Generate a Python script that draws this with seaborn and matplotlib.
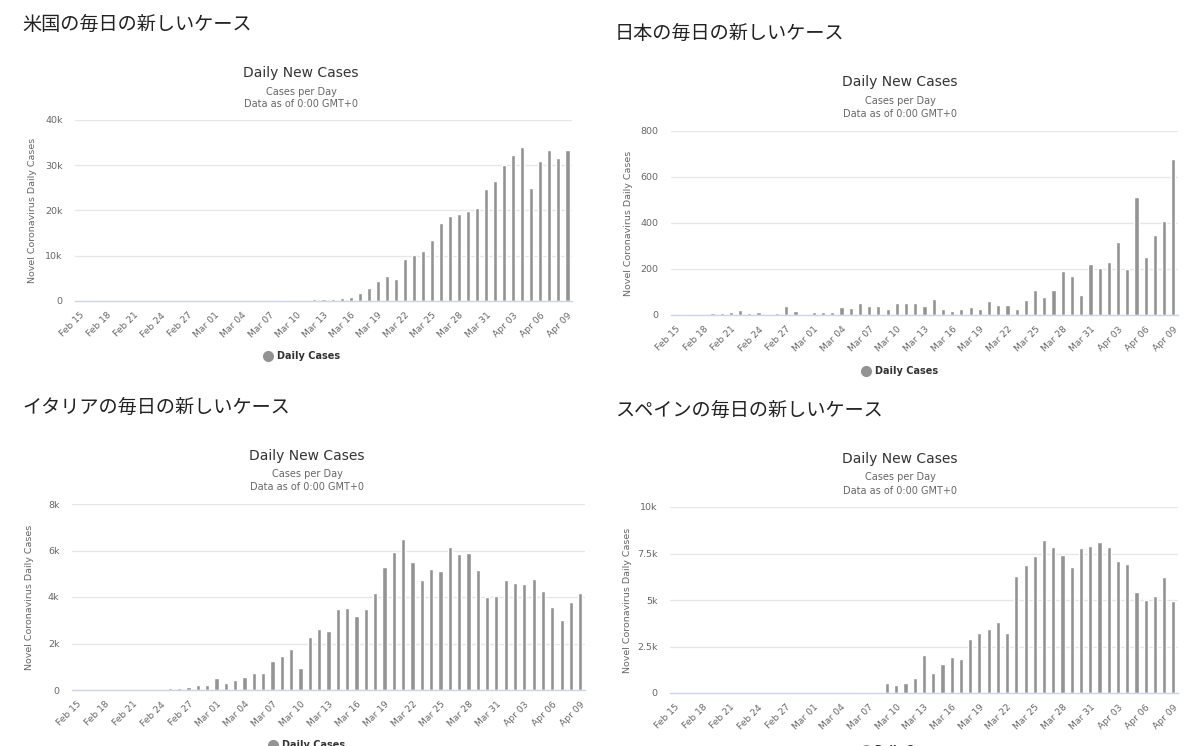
import matplotlib
matplotlib.use("Agg")
import matplotlib.pyplot as plt
import seaborn as sns
import pandas as pd
from matplotlib.lines import Line2D

# ---------------- data ----------------
dates = [
    "Feb 15", "Feb 16", "Feb 17", "Feb 18", "Feb 19", "Feb 20", "Feb 21", "Feb 22",
    "Feb 23", "Feb 24", "Feb 25", "Feb 26", "Feb 27", "Feb 28", "Feb 29",
    "Mar 01", "Mar 02", "Mar 03", "Mar 04", "Mar 05", "Mar 06", "Mar 07", "Mar 08",
    "Mar 09", "Mar 10", "Mar 11", "Mar 12", "Mar 13", "Mar 14", "Mar 15", "Mar 16",
    "Mar 17", "Mar 18", "Mar 19", "Mar 20", "Mar 21", "Mar 22", "Mar 23", "Mar 24",
    "Mar 25", "Mar 26", "Mar 27", "Mar 28", "Mar 29", "Mar 30", "Mar 31",
    "Apr 01", "Apr 02", "Apr 03", "Apr 04", "Apr 05", "Apr 06", "Apr 07", "Apr 08", "Apr 09",
]

us_cases = [
    0, 0, 0, 0, 0, 1, 0, 0, 0, 0, 0, 0, 0, 0, 0,
    8, 20, 22, 30, 70, 50, 110, 80, 160,
    200, 270, 360, 400, 500, 700, 900, 1700, 2900, 4400, 5500, 4800, 9300, 10200,
    11100, 13400, 17300, 18700, 19300, 19800, 20500, 24800,
    26500, 30000, 32200, 34000, 25000, 31000, 33300, 31700, 33300,
]

japan_cases = [
    0, 5, 5, 5, 8, 9, 13, 22, 9, 12, 0, 9, 39, 16, 5,
    13, 15, 15, 36, 30, 54, 40, 40, 26, 54, 50, 50, 40, 68, 26, 16,
    26, 33, 26, 60, 43, 43, 26, 65, 109, 78, 109, 190, 170, 85, 223,
    205, 229, 316, 201, 513, 250, 348, 407, 677,
]

italy_cases = [
    0, 0, 0, 0, 0, 0, 0, 50, 50, 50, 80, 100, 150, 220, 220,
    530, 320, 420, 560, 730, 730, 1230, 1480, 1760, 950,
    2280, 2620, 2520, 3470, 3530, 3190, 3470, 4160, 5280, 5940,
    6500, 5490, 4730, 5200, 5130, 6140, 5850, 5910, 5170, 3990, 4030,
    4730, 4610, 4540, 4760, 4270, 3570, 3010, 3790, 4170,
]

spain_cases = [
    0, 0, 0, 0, 0, 0, 0, 0, 0, 0, 0, 0, 0, 0, 0,
    0, 0, 0, 0, 0, 70, 70, 70, 540, 450, 540, 820, 2050, 1090, 1540, 1930,
    1840, 2880, 3230, 3450, 3840, 3230, 6290, 6860, 7380, 8210, 7860, 7430,
    6800, 7770, 7910,
    8120, 7860, 7090, 6910, 5430, 4980, 5200, 6220, 4950,
]

us_yticks = [0, 10000, 20000, 30000, 40000]
us_yticklabels = ["0", "10k", "20k", "30k", "40k"]
japan_yticks = [0, 200, 400, 600, 800]
japan_yticklabels = ["0", "200", "400", "600", "800"]
italy_yticks = [0, 2000, 4000, 6000, 8000]
italy_yticklabels = ["0", "2k", "4k", "6k", "8k"]
spain_yticks = [0, 2500, 5000, 7500, 10000]
spain_yticklabels = ["0", "2.5k", "5k", "7.5k", "10k"]

jp_titles = ["米国の毎日の新しいケース", "日本の毎日の新しいケース",
             "イタリアの毎日の新しいケース", "スペインの毎日の新しいケース"]
chart_title = "Daily New Cases"
subtitle_1 = "Cases per Day"
subtitle_2 = "Data as of 0:00 GMT+0"
y_label = "Novel Coronavirus Daily Cases"
legend_label = "Daily Cases"

# ---------------- style ----------------
W, H = 1200, 746
BAR = "#939393"
sns.set_theme(style="white")
plt.rcParams["font.family"] = ["DejaVu Sans", "Noto Sans CJK JP"]

fig = plt.figure(figsize=(W / 100, H / 100), dpi=100)
fig.patch.set_facecolor("white")


def fx(x):
    return x / W


def fy(y):
    return 1 - y / H


def panel(rect, values, yticks, yticklabels, jp_title, jp_xy, title_xy, sub_ys, legend_xy):
    l, t, r, b = rect
    ax = fig.add_axes([fx(l), fy(b), (r - l) / W, (b - t) / H])
    df = pd.DataFrame({"date": dates, "cases": values})
    sns.barplot(data=df, x="date", y="cases", order=dates, color=BAR,
                saturation=1, width=0.45, ax=ax, errorbar=None)
    ax.set_xlim(-0.5, len(dates) - 0.5)
    ax.set_ylim(0, yticks[-1])
    ax.set_yticks(yticks)
    ax.set_yticklabels(yticklabels, fontsize=6.8, color="#666666")
    ax.set_xticks(range(0, len(dates), 3))
    ax.set_xticklabels(dates[::3], rotation=45, ha="right", rotation_mode="anchor",
                       fontsize=6.6, color="#666666")
    ax.tick_params(axis="both", length=0)
    ax.tick_params(axis="x", pad=7)
    ax.tick_params(axis="y", pad=9)
    ax.set_xlabel("")
    ax.set_ylabel(y_label, fontsize=6.8, color="#666666")
    ax.yaxis.set_label_coords(-38 / (r - l), 0.5)
    ax.grid(axis="y", color="#e6e6e6", linewidth=0.9)
    ax.grid(axis="x", visible=False)
    ax.set_axisbelow(True)
    for s in ["top", "left", "right"]:
        ax.spines[s].set_visible(False)
    ax.spines["bottom"].set_color("#ccd6eb")
    ax.spines["bottom"].set_linewidth(1)
    ax.set_facecolor("white")

    fig.text(fx(jp_xy[0]), fy(jp_xy[1]), jp_title, fontsize=13.8, color="#222222",
             ha="left", va="center", family=["Noto Sans CJK JP", "DejaVu Sans"])
    fig.text(fx(title_xy[0]), fy(title_xy[1]), chart_title, fontsize=10,
             color="#333333", ha="center", va="center")
    fig.text(fx(title_xy[0]), fy(sub_ys[0]), subtitle_1, fontsize=7,
             color="#666666", ha="center", va="center")
    fig.text(fx(title_xy[0]), fy(sub_ys[1]), subtitle_2, fontsize=7,
             color="#666666", ha="center", va="center")

    handle = Line2D([], [], marker="o", linestyle="none", markersize=7,
                    markerfacecolor=BAR, markeredgecolor=BAR)
    fig.legend([handle], [legend_label], loc="center",
               bbox_to_anchor=(fx(legend_xy[0]), fy(legend_xy[1])),
               frameon=False, handletextpad=0.4, handlelength=1.0,
               prop={"weight": "bold", "size": 7}, labelcolor="#333333")
    return ax


panel((75, 120, 572, 301), us_cases, us_yticks, us_yticklabels, jp_titles[0],
      (22, 24), (301, 73), (92, 104), (302, 356))
panel((671, 131, 1178, 315), japan_cases, japan_yticks, japan_yticklabels, jp_titles[1],
      (615, 33), (900, 82), (101, 114), (900, 371))
panel((72, 504, 585, 690), italy_cases, italy_yticks, italy_yticklabels, jp_titles[2],
      (22, 407), (307, 456), (474, 487), (307, 745))
panel((670, 507, 1178, 693), spain_cases, spain_yticks, spain_yticklabels, jp_titles[3],
      (615, 410), (900, 459), (477, 491), (900, 750))

fig.savefig("out.png", dpi=100, facecolor="white")
